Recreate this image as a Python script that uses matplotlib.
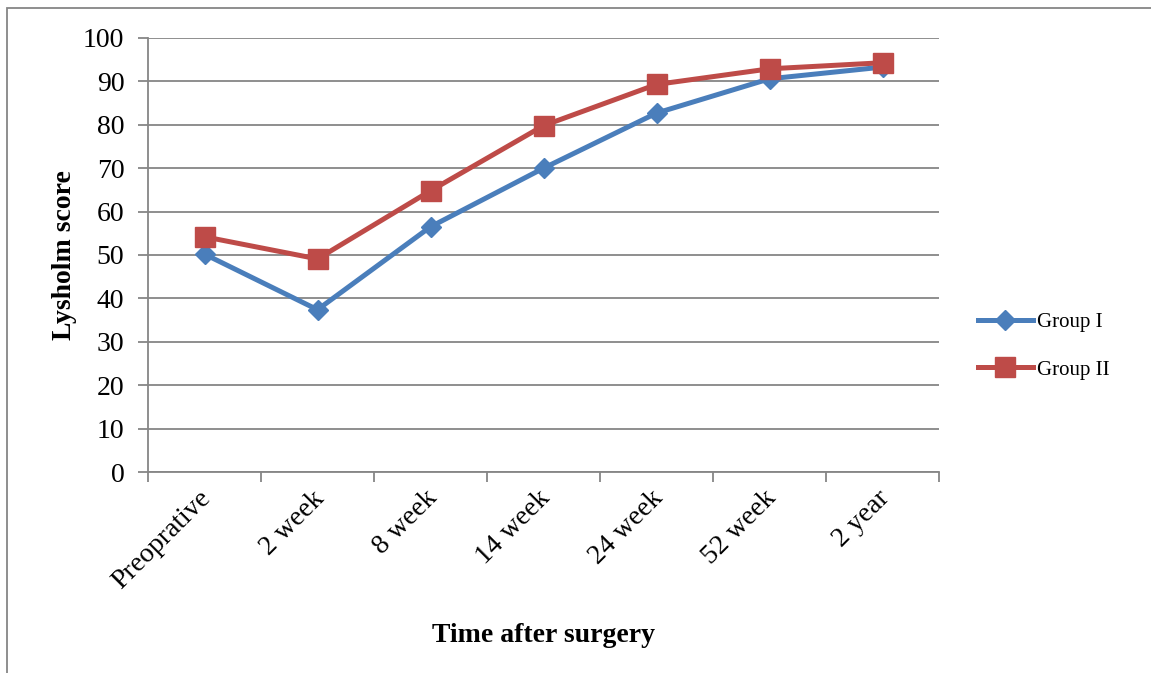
import numpy as np
import matplotlib.pyplot as plt
from matplotlib.patches import Rectangle
from matplotlib.transforms import ScaledTranslation

# Lysholm score by time after surgery
categories = ['Preoprative', '2 week', '8 week', '14 week', '24 week', '52 week', '2 year']
group_1 = [50.2, 37.4, 56.5, 70.0, 82.7, 90.6, 93.3]
group_2 = [54.2, 49.1, 64.8, 79.8, 89.3, 92.9, 94.3]

plt.rcParams['font.family'] = ['Liberation Serif', 'DejaVu Serif']
grey = '#868686'

fig = plt.figure(figsize=(11.51, 6.73), dpi=100)
fig.patches.append(Rectangle((7 / 1151, -0.1), 1.2, 1.1 - 8 / 673, transform=fig.transFigure,
                             fill=False, edgecolor=grey, linewidth=1.3))
ax = fig.add_axes([148 / 1151, 1 - 472 / 673, (939 - 148) / 1151, (472 - 38) / 673])

x = np.arange(len(categories))
ax.plot(x, group_1, color='#4A7EBB', linewidth=3.6, marker='D', markersize=10.5,
        label='Group I', solid_joinstyle='round')
ax.plot(x, group_2, color='#BE4B48', linewidth=3.6, marker='s', markersize=14,
        label='Group II', solid_joinstyle='round')

ax.set_xlim(-0.5, len(categories) - 0.5)
ax.set_ylim(0, 100)
ax.set_yticks(np.arange(0, 101, 10))
ax.yaxis.grid(True, color=grey, linewidth=1.3)
ax.set_axisbelow(True)

# boundary ticks below the axis, labels at category centres
ax.set_xticks(np.arange(-0.5, len(categories), 1))
ax.set_xticklabels([])
ax.set_xticks(x, minor=True)
ax.set_xticklabels(categories, minor=True, rotation=45, ha='right', va='top',
                   rotation_mode='anchor', fontsize=20)
ax.tick_params(axis='x', which='minor', length=0, pad=10)
ax.tick_params(axis='x', which='major', length=7, color=grey, width=1.3)
ax.tick_params(axis='y', length=7, color=grey, width=1.3, labelsize=20, pad=10)
shift = ScaledTranslation(-6 / 100, 0, fig.dpi_scale_trans)
for lbl in ax.get_xticklabels(minor=True):
    lbl.set_transform(lbl.get_transform() + shift)

for side in ['top', 'right']:
    ax.spines[side].set_visible(False)
for side in ['left', 'bottom']:
    ax.spines[side].set_color(grey)
    ax.spines[side].set_linewidth(1.3)

ax.set_ylabel('Lysholm score', fontsize=20, fontweight='bold', labelpad=4)
ax.set_xlabel('Time after surgery', fontsize=20, fontweight='bold', labelpad=21)

ax.legend(loc='center left', bbox_to_anchor=(1.049, 0.29), frameon=False, fontsize=15,
          handlelength=2.65, handletextpad=0.2, labelspacing=1.35,
          borderpad=0, borderaxespad=0)

fig.savefig('out.png', dpi=100)
